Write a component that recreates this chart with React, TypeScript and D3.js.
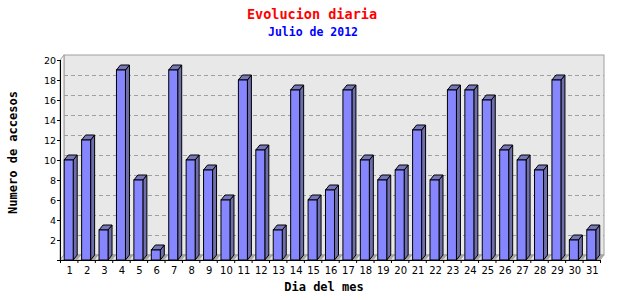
import React from "react";
import * as d3 from "d3";

const days = ["1","2","3","4","5","6","7","8","9","10","11","12","13","14","15","16","17","18","19","20","21","22","23","24","25","26","27","28","29","30","31"];
const visits = [10,12,3,19,8,1,19,10,9,6,18,11,3,17,6,7,17,10,8,9,13,8,17,17,16,11,10,9,18,2,3];
const yTicks = [2,4,6,8,10,12,14,16,18,20];
const titleText = "Evolucion diaria";
const subtitleText = "Julio de 2012";
const xTitle = "Dia del mes";
const yTitle = "Numero de accesos";

const W = 640, H = 300;
const left = 60, right = 600, bottom = 260, top = 60;
const DX = 4, DY = 5;
const mono = "'DejaVu Sans Mono', monospace";
const sans = "'DejaVu Sans', sans-serif";

export default function App() {
  const x = d3.scaleBand<string>().domain(days).range([left, right]).paddingInner(0).paddingOuter(0);
  const y = d3.scaleLinear().domain([0, 20]).range([bottom, top]);
  const bw = x.bandwidth();
  const barW = 9;
  const barOff = 4.2;

  return (
    <svg width={W} height={H} style={{ position: "absolute", left: 0, top: 0, background: "#fff" }}>
      {/* back wall */}
      <rect x={left + DX} y={top - DY} width={right - left} height={bottom - top} fill="#e8e8e8" stroke="#a0a0a0" strokeWidth={1} />
      {/* left wall */}
      <polygon points={`${left},${top} ${left + DX},${top - DY} ${left + DX},${bottom - DY} ${left},${bottom}`} fill="#f2f2f2" stroke="#a0a0a0" strokeWidth={1} />
      {/* floor */}
      <polygon points={`${left},${bottom} ${left + DX},${bottom - DY} ${right + DX},${bottom - DY} ${right},${bottom}`} fill="#e8e8e8" stroke="#a0a0a0" strokeWidth={1} />
      {/* gridlines */}
      {yTicks.slice(0, -1).map((t) => (
        <line key={t} x1={left + DX} x2={right + DX} y1={y(t) - DY + 0.5} y2={y(t) - DY + 0.5} stroke="#a0a0a0" strokeDasharray="4,3" />
      ))}
      {/* floor shadows */}
      {days.map((d, i) => {
        const x0 = (x(d) as number) + barOff;
        const xr = x0 + barW;
        return (
          <polygon key={"s" + d} points={`${xr},${bottom} ${xr + DX},${bottom - DY} ${xr + DX + 4},${bottom - DY} ${xr + 4},${bottom}`} fill="#a4a4a4" />
        );
      })}
      {/* bars */}
      {days.map((d, i) => {
        const x0 = (x(d) as number) + barOff;
        const xr = x0 + barW;
        const yt = y(visits[i]);
        return (
          <g key={d} stroke="#000" strokeWidth={1} strokeLinejoin="miter">
            <polygon points={`${xr},${yt} ${xr + DX},${yt - DY} ${xr + DX},${bottom - DY} ${xr},${bottom}`} fill="#6e6eaa" />
            <polygon points={`${x0},${yt} ${x0 + DX},${yt - DY} ${xr + DX},${yt - DY} ${xr},${yt}`} fill="#7676bc" />
            <rect x={x0} y={yt} width={barW} height={bottom - yt} fill="#8686ff" />
          </g>
        );
      })}
      {/* y axis */}
      <line x1={left + 0.5} x2={left + 0.5} y1={top} y2={bottom} stroke="#000" />
      {[0, ...yTicks].map((t) => (
        <line key={"yt" + t} x1={left - 3} x2={left} y1={y(t) + 0.5} y2={y(t) + 0.5} stroke="#000" />
      ))}
      {yTicks.map((t) => (
        <text key={"yl" + t} x={left - 4} y={y(t) + 4} textAnchor="end" fontFamily={sans} fontSize={9.5} fill="#000">{t}</text>
      ))}
      {/* x axis */}
      <line x1={left} x2={right} y1={bottom + 0.5} y2={bottom + 0.5} stroke="#000" />
      {[...days.map((d) => x(d) as number), right].map((p, i) => (
        <line key={"xt" + i} x1={p + 0.5} x2={p + 0.5} y1={bottom} y2={bottom + 3} stroke="#000" />
      ))}
      {days.map((d) => (
        <text key={"xl" + d} x={(x(d) as number) + bw / 2 + 1} y={274} textAnchor="middle" fontFamily={sans} fontSize={10} fill="#000">{d}</text>
      ))}
      {/* titles */}
      <text x={312} y={18.5} textAnchor="middle" fontFamily={mono} fontWeight="bold" fontSize={13.5} fill="#ff0000">{titleText}</text>
      <text x={313} y={36} textAnchor="middle" fontFamily={mono} fontWeight="bold" fontSize={11.5} fill="#0000ff">{subtitleText}</text>
      <text x={324} y={291} textAnchor="middle" fontFamily={mono} fontWeight="bold" fontSize={12} fill="#000">{xTitle}</text>
      <text transform="translate(17,152.5) rotate(-90)" textAnchor="middle" fontFamily={mono} fontWeight="bold" fontSize={12} fill="#000">{yTitle}</text>
    </svg>
  );
}
